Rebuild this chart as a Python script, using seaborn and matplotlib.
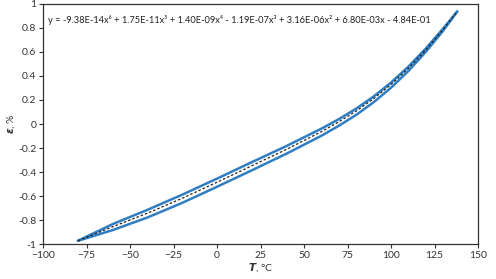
import numpy as np
import pandas as pd
import matplotlib
matplotlib.use("Agg")
import matplotlib.pyplot as plt
import seaborn as sns

# temperature points, degC
temp = [-80, -60, -40, -20, 0, 20, 40, 60, 70, 80, 90, 100, 110, 120, 130, 138]
# loop branches, strain %
upper = [-0.972, -0.833, -0.714, -0.588, -0.454, -0.317, -0.182, -0.038,
         0.041, 0.129, 0.230, 0.346, 0.479, 0.630, 0.797, 0.937]
lower = [-0.972, -0.883, -0.778, -0.656, -0.522, -0.385, -0.246, -0.097,
         -0.014, 0.077, 0.182, 0.303, 0.443, 0.602, 0.779, 0.937]
# trend line (dashed)
trend = [-0.972, -0.855, -0.742, -0.618, -0.484, -0.347, -0.210, -0.063,
         0.019, 0.109, 0.212, 0.330, 0.465, 0.618, 0.789, 0.937]

eq = ("y = -9.38E-14x\u2076 + 1.75E-11x\u2075 + 1.40E-09x\u2074 - 1.19E-07x\u00b3 "
      "+ 3.16E-06x\u00b2 + 6.80E-03x - 4.84E-01")

sns.set_style("ticks")
plt.rcParams["font.family"] = ["Lato", "DejaVu Sans"]
plt.rcParams["mathtext.fontset"] = "custom"
plt.rcParams["mathtext.it"] = "DejaVu Sans:italic:bold"
plt.rcParams["mathtext.rm"] = "Lato"

df = pd.DataFrame({"T": temp, "up": upper, "lo": lower, "fit": trend})

fig = plt.figure(figsize=(4.96, 2.79), dpi=100)
ax = fig.add_axes([0.087, 0.125, 0.877, 0.861])

blue = "#2f7ec3"
sns.lineplot(data=df, x="T", y="up", color=blue, lw=1.8, ax=ax, sort=False)
sns.lineplot(data=df, x="T", y="lo", color=blue, lw=1.8, ax=ax, sort=False)
sns.lineplot(data=df, x="T", y="fit", color="#222222", lw=0.9, ax=ax,
             sort=False, linestyle=(0, (2, 1.6)))

ax.set_xlim(-100, 150)
ax.set_ylim(-1, 1)
ax.set_xticks(np.arange(-100, 151, 25))
ax.set_yticks(np.round(np.arange(-1, 1.01, 0.2), 1))
ax.set_yticklabels(["-1", "-0.8", "-0.6", "-0.4", "-0.2", "0", "0.2", "0.4", "0.6", "0.8", "1"])
ax.tick_params(labelsize=7.5, length=3, width=0.8, colors="#333333", labelcolor="#333333", pad=2)
for s in ax.spines.values():
    s.set_visible(True)
    s.set_color("#333333")
    s.set_linewidth(0.9)

ax.set_xlabel(r"$T$, °C", fontsize=7.5, color="#333333", labelpad=1)
ax.set_ylabel(r"$\varepsilon$, %", fontsize=7.5, color="#333333", labelpad=1)

ax.text(0.012, 0.935, eq, transform=ax.transAxes, fontsize=6.7, color="#222222",
        va="center", ha="left")

fig.savefig("out.png", dpi=100)
